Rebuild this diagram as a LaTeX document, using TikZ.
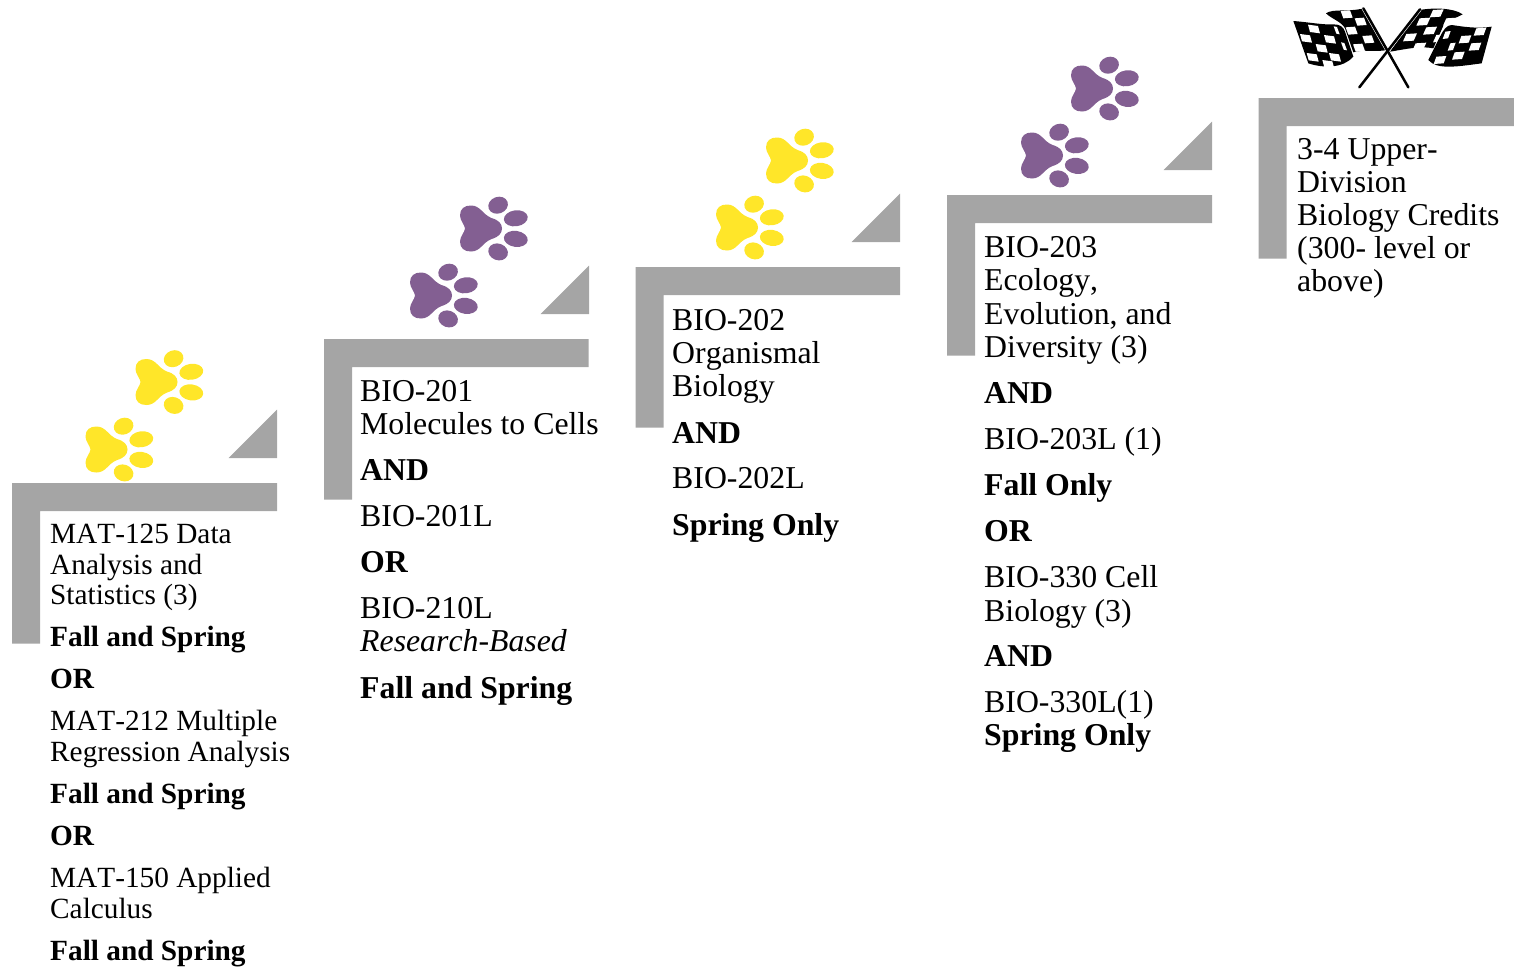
\documentclass[tikz,border=0pt]{standalone}
\usepackage{fontspec}
\setmainfont[Kerning=Off]{Liberation Serif}
\definecolor{stepgray}{HTML}{A5A5A5}
\definecolor{pawyellow}{HTML}{FFE629}
\definecolor{pawpurple}{HTML}{835F92}
\tikzset{
  txt/.style={anchor=base west,inner sep=0pt,font=\fontsize{31.8}{33}\selectfont},
  btxt/.style={txt,font=\fontsize{31.8}{33}\selectfont\bfseries},
  itxt/.style={txt,font=\fontsize{31.8}{33}\selectfont\itshape},
  smalltxt/.style={txt,font=\fontsize{29.3}{33}\selectfont},
  smallbtxt/.style={txt,font=\fontsize{29.3}{33}\selectfont\bfseries},
  pole/.style={line width=2.5pt,line cap=round},
  polegap/.style={line width=3.6pt,white}
}
\newcommand{\paw}[3]{
  \begin{scope}[shift={(#1,#2)},fill=#3]
    \fill (4.5,0) .. controls (4,-4) and (-.5,-8) .. (-.5,-13)
      .. controls (-.5,-20) and (4,-23) .. (10.5,-23)
      .. controls (20,-23) and (22,-14) .. (31,-10.5)
      .. controls (38,-8.5) and (41.5,-5) .. (41.5,0)
      .. controls (41.5,5) and (38,8.5) .. (31,10.5)
      .. controls (22,14) and (20,23) .. (10.5,23)
      .. controls (4,23) and (-.5,20) .. (-.5,13)
      .. controls (-.5,8) and (4,4) .. (4.5,0) -- cycle;
    \fill (37.6,-23.3) ellipse [x radius=10,y radius=8.3,rotate=20];
    \fill (55.3,-10.2) ellipse [x radius=12,y radius=8,rotate=8];
    \fill (55.3,10.4) ellipse [x radius=12,y radius=8,rotate=-8];
    \fill (37.6,23.4) ellipse [x radius=10,y radius=8.3,rotate=-20];
  \end{scope}
}
\newcommand{\checks}[5]{
  \foreach \a/\b in {#5}
    \fill[white] ({\a-#1-#3},{\b-#2-#4}) -- ({\a+#1-#3},{\b+#2-#4})
      -- ({\a+#1+#3},{\b+#2+#4}) -- ({\a-#1+#3},{\b-#2+#4}) -- cycle;
}
\begin{document}
\begin{tikzpicture}[x=1pt,y=-1pt]
  \useasboundingbox (0,0) rectangle (1514,967);
  % stairs
  \foreach \x/\y/\w in {12/483/265,324/339/264.5,635.5/267/264.5,947/195/265,1258.5/98/255.5}
    \fill[stepgray] (\x,\y) -- ++(\w,0) -- ++(0,28) -- ({\x+28},{\y+28}) -- ({\x+28},{\y+160.5}) -- (\x,{\y+160.5}) -- cycle;
  \foreach \x/\y in {277/458,589/314,900/242,1212/170}
    \fill[stepgray] (\x,\y) -- ++(-48.5,0) -- ++(48.5,-48.5) -- cycle;
  % paws
  \paw{86}{449.5}{pawyellow}
  \paw{136}{382}{pawyellow}
  \paw{410.5}{295.5}{pawpurple}
  \paw{460.5}{228.5}{pawpurple}
  \paw{716.5}{227.5}{pawyellow}
  \paw{766.5}{160.5}{pawyellow}
  \paw{1021.5}{155.5}{pawpurple}
  \paw{1071.5}{88.5}{pawpurple}
  % flags
  \begin{scope}[shift={(1290,5)},x=.3333pt,y=-.3333pt]
    \fill (108,25) .. controls (130,10) and (170,22) .. (222,10) -- (290,135)
      .. controls (260,142) and (220,132) .. (190,142) -- (165,70)
      .. controls (155,50) and (125,42) .. (108,25) -- cycle;
    \checks{14}{-1}{4}{11}{170/28,212/50,185/77,235/103,207/128}
    \fill (10,48) .. controls (60,52) and (100,60) .. (130,58)
      .. controls (150,58) and (160,65) .. (165,80) -- (190,155)
      .. controls (160,190) and (100,190) .. (55,175) -- cycle;
    \checks{15}{2}{3}{11}{72/72,48/100,120/103,95/130,68/157,135/157,115/178}
    \checks{5}{1}{4}{11}{140/76,162/124}
  \end{scope}
  \begin{scope}[shift={(1390,5)},x=.3333pt,y=-.3333pt]
    \fill (88,15) .. controls (130,8) and (190,8) .. (218,28)
      .. controls (185,45) and (170,50) .. (160,62) -- (130,130)
      .. controls (90,122) and (50,132) .. (0,140) -- cycle;
    \checks{16}{-1}{-5}{11}{140/25,100/50,180/50,120/77,60/97,88/125,150/100}
    \fill (305,65) .. controls (260,72) and (220,65) .. (185,60)
      .. controls (170,60) and (160,75) .. (150,95) -- (115,165)
      .. controls (140,195) and (200,185) .. (275,175) -- cycle;
    \checks{15}{-1}{-4}{11}{270/80,225/103,205/152,255/125,150/165}
    \checks{8}{-1}{-4}{11}{170/90,185/125}
  \end{scope}
  \begin{scope}[shift={(1270,0)},x=.3333pt,y=-.3333pt]
    \coordinate (poleA) at (415,262);
    \coordinate (poleB) at (280,25);
    \coordinate (poleC) at (268,262);
    \coordinate (poleD) at (450,28);
    \draw[polegap] (poleA) -- (poleB);
    \draw[polegap] (poleC) -- (poleD);
    \draw[pole] (poleA) -- (poleB);
    \draw[pole] (poleC) -- (poleD);
  \end{scope}
  % mat column
  \node[smalltxt] (m1) at (50,543) {MAT-125 Data};
  \node[smalltxt] (m2) at (50,574) {Analysis and};
  \node[smalltxt] (m3) at (50,604) {Statistics (3)};
  \node[smallbtxt] (m4) at (50,646) {Fall and Spring};
  \node[smallbtxt] (m5) at (50,688) {OR};
  \node[smalltxt] (m6) at (50,730) {MAT-212 Multiple};
  \node[smalltxt] (m7) at (50,761) {Regression Analysis};
  \node[smallbtxt] (m8) at (50,803) {Fall and Spring};
  \node[smallbtxt] (m9) at (50,845) {OR};
  \node[smalltxt] (m10) at (50,887) {MAT-150 Applied};
  \node[smalltxt] (m11) at (50,918) {Calculus};
  \node[smallbtxt] (m12) at (50,960) {Fall and Spring};
  % bio 201
  \node[txt] (a1) at (360,401) {BIO-201};
  \node[txt] (a2) at (360,434) {Molecules to Cells};
  \node[btxt] (a3) at (360,480) {AND};
  \node[txt] (a4) at (360,526) {BIO-201L};
  \node[btxt] (a5) at (360,572) {OR};
  \node[txt] (a6) at (360,618) {BIO-210L};
  \node[itxt] (a7) at (360,651) {Research-Based};
  \node[btxt] (a8) at (360,698) {Fall and Spring};
  % bio 202
  \node[txt] (b1) at (672,330) {BIO-202};
  \node[txt] (b2) at (672,363) {Organismal};
  \node[txt] (b3) at (672,396) {Biology};
  \node[btxt] (b4) at (672,443) {AND};
  \node[txt] (b5) at (672,488) {BIO-202L};
  \node[btxt] (b6) at (672,535) {Spring Only};
  % bio 203
  \node[txt] (c1) at (984,257) {BIO-203};
  \node[txt] (c2) at (984,290) {Ecology,};
  \node[txt] (c3) at (984,324) {Evolution, and};
  \node[txt] (c4) at (984,357) {Diversity (3)};
  \node[btxt] (c5) at (984,403) {AND};
  \node[txt] (c6) at (984,449) {BIO-203L (1)};
  \node[btxt] (c7) at (984,495) {Fall Only};
  \node[btxt] (c8) at (984,541) {OR};
  \node[txt] (c9) at (984,587) {BIO-330 Cell};
  \node[txt] (c10) at (984,621) {Biology (3)};
  \node[btxt] (c11) at (984,666) {AND};
  \node[txt] (c12) at (984,712) {BIO-330L(1)};
  \node[btxt] (c13) at (984,745) {Spring Only};
  % upper division
  \node[txt] (d1) at (1297,159) {3-4 Upper-};
  \node[txt] (d2) at (1297,192) {Division};
  \node[txt] (d3) at (1297,225) {Biology Credits};
  \node[txt] (d4) at (1297,258) {(300- level or};
  \node[txt] (d5) at (1297,291) {above)};
\end{tikzpicture}
\end{document}
